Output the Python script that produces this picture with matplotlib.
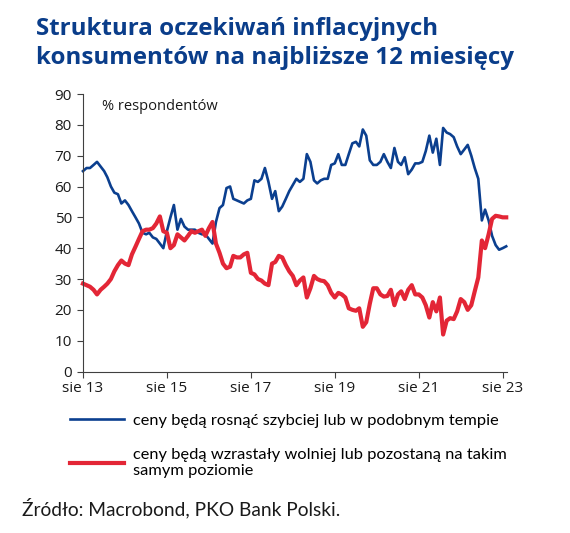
import numpy as np
import pandas as pd
import matplotlib
matplotlib.use("Agg")
import matplotlib.pyplot as plt

# monthly survey data, Aug 2013 - Sep 2023 (% of respondents)
dates = pd.date_range("2013-08-01", periods=122, freq="MS")

faster = [65, 66, 66, 67, 68, 66.5, 65, 63, 60, 58,
          57.5, 54.5, 55.5, 54, 52, 50, 48, 45, 44.5, 45,
          43.5, 43, 41.5, 40, 45.5, 50, 54, 46, 49.5, 47,
          46, 46, 46, 45, 44.5, 44.5, 43, 41.5, 48.5, 53,
          54, 59.5, 60, 56, 55.5, 55, 54.5, 55.5, 56, 62,
          61.5, 62.5, 66, 61.5, 56, 58.5, 52, 53.5, 56, 58.5,
          60.5, 62.5, 61.5, 62.5, 70.5, 68, 62, 61, 62, 62.5,
          62.5, 67, 67.5, 70.5, 67, 67, 70.5, 74, 74.5, 73,
          78.5, 76.5, 68.5, 67, 67, 68, 70.5, 68, 66, 72.5,
          68, 67, 69.5, 64, 65.5, 67.5, 67.5, 68, 71.5, 76.5,
          71, 75.5, 67, 79, 77.5, 77, 76, 73, 70.5, 72,
          73.5, 70, 66, 62.5, 49, 52.5, 49, 44, 41, 39.5,
          40, 40.6]

slower = [28.5, 28, 27.5, 26.5, 25, 26.5, 27.5, 28.5, 30, 32.5,
          34.5, 36, 35, 34.5, 38, 40.5, 43, 45.5, 46, 46,
          46.5, 48, 50.3, 45.5, 45, 40, 41, 44.5, 43.5, 42.5,
          44, 45.5, 45, 45.5, 46, 44, 46.5, 48.5, 41.5, 38.5,
          35, 33.5, 34, 37.5, 37, 37, 38, 38.5, 32, 31.5,
          30, 29.5, 28.5, 28, 35, 35.5, 37.5, 37, 34.5, 32.5,
          31, 28, 29.5, 30.5, 24, 27, 31, 30, 29.5, 29.3,
          28, 25.5, 24, 25.5, 25, 24, 20.5, 20, 19.7, 20.5,
          14.5, 16, 22, 27, 27, 25, 24.3, 24.5, 26.5, 21.5,
          25, 26, 23.5, 26.5, 28, 25, 25, 24, 21.5, 17.5,
          22.5, 19.5, 24, 12, 16.5, 17.3, 17, 19.5, 23.5, 22.5,
          20, 21.5, 26, 30.5, 42.5, 40, 44.5, 49.5, 50.5, 50.3,
          50, 50]

tick_dates = pd.to_datetime(["2013-08-01", "2015-08-01", "2017-08-01",
                             "2019-08-01", "2021-08-01", "2023-08-01"])
tick_labels = ["sie 13", "sie 15", "sie 17", "sie 19", "sie 21", "sie 23"]

blue = "#0b3f8f"
red = "#e32636"
axis_col = "#404040"

fig = plt.figure(figsize=(5.70, 5.33), dpi=100)
ax = fig.add_axes([0.1456, 0.303, 0.7435, 0.5206])

ax.plot(dates, faster, color=blue, lw=1.9, clip_on=False,
        label="ceny będą rosnąć szybciej lub w podobnym tempie")
ax.plot(dates, slower, color=red, lw=3.0, clip_on=False,
        label="ceny będą wzrastały wolniej lub pozostaną na takim\nsamym poziomie")

ax.set_ylim(0, 90)
ax.set_yticks(range(0, 91, 10))
ax.set_xlim(dates[0], dates[-1] + pd.Timedelta(days=5))
ax.set_xticks(tick_dates)
ax.set_xticklabels(tick_labels)

for s in ["top", "right"]:
    ax.spines[s].set_visible(False)
for s in ["left", "bottom"]:
    ax.spines[s].set_color(axis_col)
    ax.spines[s].set_linewidth(0.8)
ax.tick_params(axis="both", colors=axis_col, length=4, width=0.8,
               labelcolor="#1a1a1a", labelsize=11)
ax.tick_params(axis="y", pad=4)
ax.tick_params(axis="x", pad=3)
for lab in ax.get_xticklabels() + ax.get_yticklabels():
    lab.set_fontfamily("Open Sans")

ax.text(0.045, 0.955, "% respondentów", transform=ax.transAxes,
        fontsize=10.5, family="Open Sans", color="#1a1a1a", va="center")

fig.text(0.064, 0.968, "Struktura oczekiwań inflacyjnych\nkonsumentów na najbliższe 12 miesięcy",
         fontsize=17.4, fontweight="bold", color="#0a3d8a", family="Open Sans",
         va="top", ha="left", linespacing=1.28)

fig.legend(loc="upper left", bbox_to_anchor=(0.123, 0.224), frameon=False,
           handlelength=3.3, handletextpad=0.55, labelspacing=1.2,
           prop={"family": "Lato", "size": 11.8}, borderaxespad=0,
           borderpad=0)

fig.text(0.038, 0.047, "Źródło: Macrobond, PKO Bank Polski.",
         fontsize=13.8, family="Lato", color="#1a1a1a", va="center")

fig.savefig("out.png", dpi=100)
